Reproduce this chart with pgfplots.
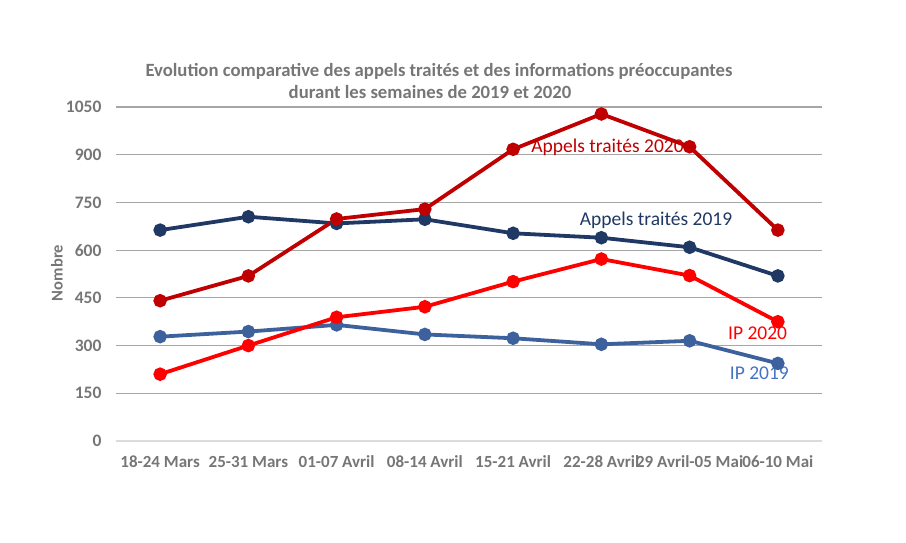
\documentclass[border=0pt]{standalone}
\usepackage{pgfplots}
\pgfplotsset{compat=1.18}
\usepackage{fontspec}
\setmainfont{Carlito}
\definecolor{a20}{HTML}{C00000}
\definecolor{a19}{HTML}{1F3864}
\definecolor{ip20}{HTML}{FF0000}
\definecolor{ip19}{HTML}{3D619C}
\definecolor{ip19t}{HTML}{4472C4}
\definecolor{txtg}{HTML}{767676}
\definecolor{gridg}{HTML}{A6A6A6}
\begin{document}
\begin{tikzpicture}[x=1pt,y=1pt]
\path[use as bounding box] (0,0) rectangle (906,542);
\begin{axis}[
  at={(116pt,101pt)}, anchor=south west,
  scale only axis, width=706pt, height=334pt,
  xmin=-0.5, xmax=7.5, ymin=0, ymax=1050,
  xtick={0,...,7},
  xticklabels={18-24 Mars,25-31 Mars,01-07 Avril,08-14 Avril,15-21 Avril,22-28 Avril,29 Avril-05 Mai,06-10 Mai},
  ytick={0,150,...,1050},
  ymajorgrids, major grid style={gridg, line width=1.2pt},
  axis x line*=bottom, axis y line*=left,
  y axis line style={draw=none},
  x axis line style={draw=gridg!40, line width=1.2pt},
  tick style={draw=none},
  /pgf/number format/assume math mode=true,
  yticklabel style={font=\bfseries\fontsize{17.5}{17.5}\selectfont, text=txtg, xshift=-11pt},
  xticklabel style={font=\bfseries\fontsize{17}{17}\selectfont, text=txtg, inner sep=0pt, text height=12pt, text depth=3pt, yshift=-14pt},
  yticklabel={\pgfmathprintnumber[fixed,1000 sep={}]{\tick}},
  clip=false,
  every axis plot/.append style={line width=3.8pt, mark=*, mark size=4.8pt, mark options={solid, line width=0.3pt}},
]
\addplot[a19, mark options={fill=a19}] coordinates {(0,663) (1,705) (2,684) (3,697) (4,653) (5,639) (6,609) (7,519)};
\addplot[ip19, mark options={fill=ip19}] coordinates {(0,328) (1,344) (2,365) (3,335) (4,323) (5,304) (6,315) (7,244)};
\addplot[ip20, mark options={fill=ip20}] coordinates {(0,210) (1,300) (2,389) (3,422) (4,501) (5,572) (6,520) (7,375)};
\addplot[a20, mark options={fill=a20}] coordinates {(0,441) (1,519) (2,698) (3,729) (4,917) (5,1028) (6,925) (7,663)};
\node[text=a20, font=\fontsize{19.5}{19.5}\selectfont] at (axis cs:5.07,924) {Appels traités 2020};
\node[text=a19, font=\fontsize{19.5}{19.5}\selectfont] at (axis cs:5.62,695) {Appels traités 2019};
\node[text=ip20, font=\fontsize{19.5}{19.5}\selectfont] at (axis cs:6.77,340) {IP 2020};
\node[text=ip19t, font=\fontsize{19.5}{19.5}\selectfont] at (axis cs:6.79,214) {IP 2019};
\end{axis}
\node[rotate=90, font=\bfseries\fontsize{16.5}{16.5}\selectfont, text=txtg] at (57,269) {Nombre};
\node[font=\bfseries\fontsize{18.7}{18.7}\selectfont, text=txtg] at (439,471) {Evolution comparative des appels traités et des informations préoccupantes};
\node[font=\bfseries\fontsize{18.7}{18.7}\selectfont, text=txtg] at (430,450) {durant les semaines de 2019 et 2020};
\end{tikzpicture}
\end{document}
